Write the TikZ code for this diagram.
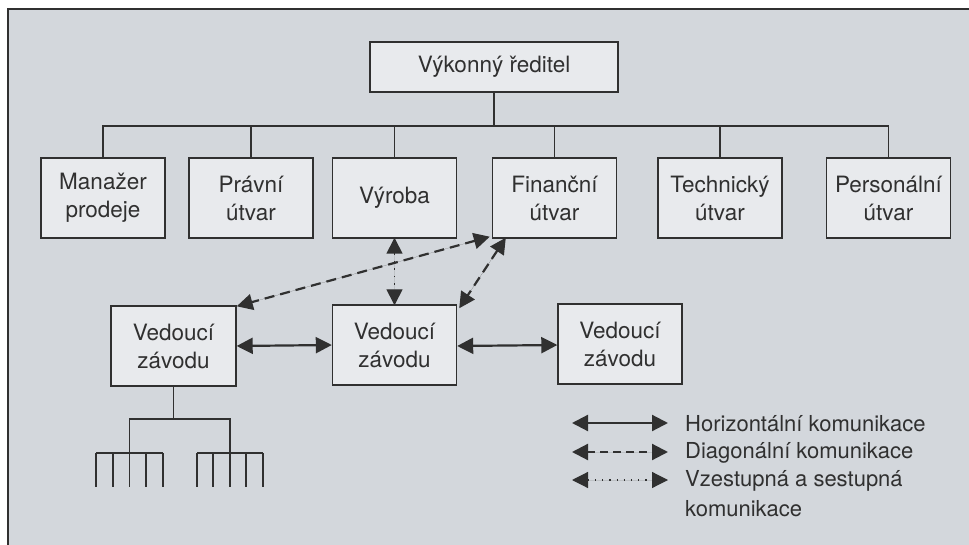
\documentclass[tikz,border=0pt]{standalone}
\usepackage{fontspec}
\setmainfont{TeX Gyre Heros}
\usetikzlibrary{arrows.meta}
\definecolor{panel}{HTML}{D3D7DC}
\definecolor{boxfill}{HTML}{E8EAED}
\definecolor{ink}{HTML}{303030}
\tikzset{
  orgbox/.style={draw=ink, line width=1.4pt, fill=boxfill, text=ink,
    minimum width=124pt, minimum height=80pt, inner sep=0pt,
    align=center, font=\fontsize{22.5}{28}\selectfont},
  link/.style={draw=ink, line width=1.6pt},
  tip/.style={{Triangle[length=16pt,width=16pt]}-{Triangle[length=16pt,width=16pt]}, draw=ink, fill=ink, line width=2.2pt},
  diag/.style={tip, dash pattern=on 10pt off 6pt},
  vert/.style={tip, line width=1.4pt, dash pattern=on 1.5pt off 6pt},
  legtext/.style={anchor=west, text=ink, inner sep=0pt, font=\fontsize{22}{28}\selectfont}
}
\begin{document}
\begin{tikzpicture}[x=1pt,y=-1pt]
\useasboundingbox (0,0) rectangle (969,545);
% background panel, open to the right and bottom
\fill[panel] (8,9) rectangle (969,545);
\draw[ink, line width=1.5pt] (8,545) -- (8,9) -- (969,9);

% top of the hierarchy
\node[orgbox, minimum width=248pt, minimum height=50pt] (ceo) at (494,67) {Výkonný ředitel};

% departments
\node[orgbox] (sales) at (103,198)   {Manažer\\prodeje};
\node[orgbox] (legal) at (251,198)   {Právní\\útvar};
\node[orgbox] (prod)  at (394.5,198) {Výroba};
\node[orgbox] (fin)   at (554.5,198) {Finanční\\útvar};
\node[orgbox] (tech)  at (720,198)   {Technický\\útvar};
\node[orgbox] (hr)    at (888.5,198) {Personální\\útvar};

% plant managers
\node[orgbox, minimum width=125pt] (p1) at (173.5,346) {Vedoucí\\závodu};
\node[orgbox, minimum width=124pt] (p2) at (394.5,345) {Vedoucí\\závodu};
\node[orgbox, minimum width=124pt] (p3) at (620,344)   {Vedoucí\\závodu};

% bus from the director to the departments
\coordinate (bus) at (494,126);
\draw[link] (ceo.south) -- (bus);
\draw[link] (sales.north) |- (bus) -| (hr.north);
\foreach \d in {legal,prod,fin,tech}
  \draw[link] (\d.north) -- (\d.north |- bus);

% horizontal communication
\draw[tip] (p1.east) -- (p2.west);
\draw[tip] ([yshift=-1pt]p2.east) -- ([yshift=-1pt]p3.west);

% diagonal communication
\draw[diag] ([shift={(-2pt,2pt)}]fin.south west) -- ([yshift=-1pt]p1.north east);
\draw[diag] ([shift={(14pt,1pt)}]fin.south west) -- ([shift={(2pt,-4pt)}]p2.north east);

% upward and downward communication
\draw[vert] ([yshift=1pt]prod.south) -- ([yshift=-1pt]p2.north);

% lower levels below the first plant
\coordinate (t0) at (173.5,419);
\coordinate (ta) at (129.5,419);
\coordinate (tb) at (230,419);
\coordinate (la) at (129.5,453);
\coordinate (lb) at (230,453);
\draw[link] (p1.south) -- (t0);
\draw[link] (la) -- (ta) -- (tb) -- (lb);
\draw[link] (96,453) -- (163,453);
\draw[link] (197,453) -- (263,453);
\foreach \x in {96,113,129.5,146,163,197,213,230,246,263}
  \draw[link] (\x,453) -- (\x,487);

% legend
\coordinate (h0) at (572,423); \coordinate (h1) at (668,423);
\coordinate (d0) at (572,452); \coordinate (d1) at (668,452);
\coordinate (v0) at (572,480); \coordinate (v1) at (668,480);
\draw[tip] (h0) -- (h1);
\draw[tip, dash pattern=on 8pt off 5pt] (d0) -- (d1);
\draw[tip, line width=1.2pt, dash pattern=on 1.2pt off 6pt] (v0) -- (v1);
\node[legtext] (lh) at (685,424) {Horizontální komunikace};
\node[legtext] (ld) at (685,453) {Diagonální komunikace};
\node[legtext] (lv) at (685,481) {Vzestupná a sestupná};
\node[legtext] (lk) at (685,509) {komunikace};
\end{tikzpicture}
\end{document}
